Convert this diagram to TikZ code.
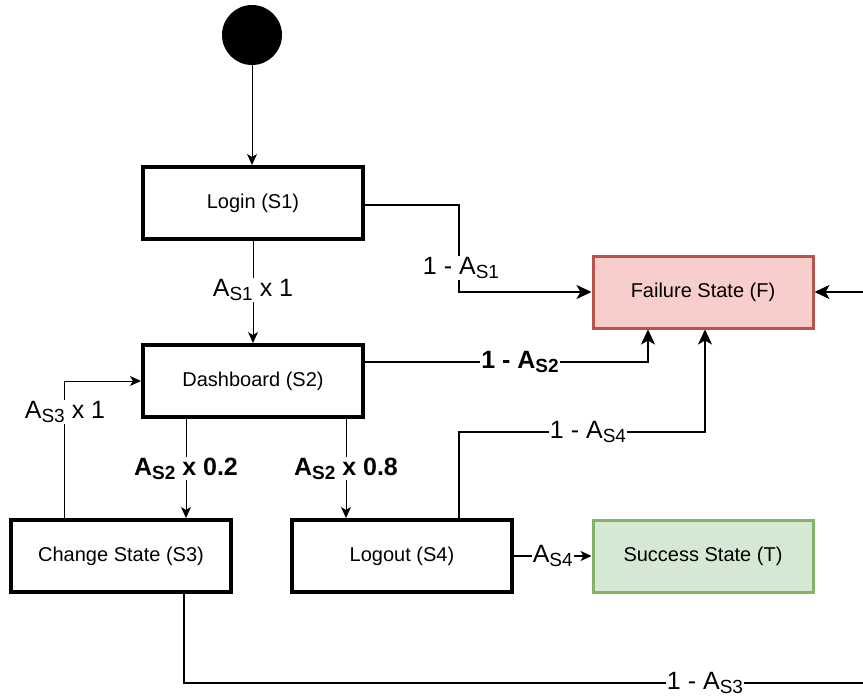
\documentclass[tikz,border=0pt]{standalone}
\usepackage{fontspec}
\setmainfont{Liberation Sans}
\usetikzlibrary{arrows.meta,calc}

\definecolor{failfill}{HTML}{F8CECC}
\definecolor{failline}{HTML}{B85450}
\definecolor{okfill}{HTML}{D5E8D4}
\definecolor{okline}{HTML}{82B366}

% availability symbol A with a state subscript
\newcommand\Avail[1]{A\raisebox{-4pt}{\fontsize{19}{19}\selectfont S#1}}

\tikzset{
  statebox/.style={draw, line width=4pt, minimum width=220pt, minimum height=72pt,
    inner sep=0pt, font=\fontsize{20}{24}\selectfont},
  failbox/.style={statebox, line width=3pt, draw=failline, fill=failfill},
  okbox/.style={statebox, line width=3pt, draw=okline, fill=okfill},
  thinarrow/.style={line width=1pt, -{Stealth[length=11pt,width=10pt,inset=3pt]}},
  thickarrow/.style={line width=2pt, -{Stealth[length=15pt,width=14pt,inset=4pt]}},
  prob/.style={fill=white, inner sep=1pt, font=\fontsize{25}{28}\selectfont},
  probbold/.style={prob, font=\fontsize{25}{28}\selectfont\bfseries},
}

\begin{document}
\begin{tikzpicture}[x=1pt, y=-1pt]
  \clip (0,0) rectangle (863,699);

  % initial state
  \node[circle, fill=black, minimum size=60pt, inner sep=0pt] (start) at (252,35) {};

  % states
  \node[statebox] (login) at (253,203) {Login (S1)};
  \node[statebox] (dash)  at (253,381) {Dashboard (S2)};
  \node[statebox] (cs)    at (121,556) {Change State (S3)};
  \node[statebox] (lo)    at (402,556) {Logout (S4)};
  \node[failbox]  (fail)  at (703,292) {Failure State (F)};
  \node[okbox]    (ok)    at (703,556) {Success State (T)};

  % bend points
  \coordinate (b1) at (459,292);
  \coordinate (b4) at (600,432);
  \coordinate (b5) at (900,683);

  % start -> login
  \draw[thinarrow] (start.south) -- (start.south |- login.north);

  % login -> dashboard
  \draw[thinarrow] (login.south) -- (login.south |- dash.north)
    node[prob, midway, yshift=2pt] {\Avail{1} x 1};

  % login -> failure
  \draw[thickarrow] ($(login.east)+(0,2)$) -| (b1) -- (fail.west);
  \node[prob] (l1) at (461,268) {1 - \Avail{1}};

  % dashboard -> failure
  \coordinate (d1) at ($(dash.north east)!0.25!(dash.south east)$);
  \draw[thickarrow] (d1) -| (d1 -| {$(fail.south)+(-55,0)$}) -- ($(fail.south)+(-55,0)$);
  \node[probbold] (l2) at (520,362) {1 - \Avail{2}};

  % dashboard -> change state / logout
  \coordinate (d2) at ($(dash.south west)+(45,0)$);
  \draw[thinarrow] (d2) -- (d2 |- cs.north)
    node[probbold, midway] {\Avail{2} x 0.2};
  \coordinate (d3) at ($(dash.south east)+(-19,0)$);
  \draw[thinarrow] (d3) -- (d3 |- lo.north)
    node[probbold, midway] {\Avail{2} x 0.8};

  % change state -> dashboard
  \coordinate (c1) at ($(cs.north west)+(55,0)$);
  \draw[thinarrow] (c1) |- (dash.west);
  \node[prob] (l3) at (65,412) {\Avail{3} x 1};

  % logout -> failure
  \coordinate (o1) at ($(lo.north east)+(-55,0)$);
  \draw[thickarrow] (o1) |- (b4) -| ($(fail.south)+(2,0)$);
  \node[prob] (l4) at (588,432) {1 - \Avail{4}};

  % logout -> success
  \draw[line width=1.5pt, -{Stealth[length=11pt,width=10pt,inset=3pt]}] (lo.east) -- (ok.west)
    node[prob, midway] {\Avail{4}};

  % change state -> failure (routed around the right side)
  \coordinate (c2) at ($(cs.south east)+(-49,0)$);
  \draw[thickarrow] (c2) |- (b5) |- (fail.east);
  \node[prob] (l5) at (705,683) {1 - \Avail{3}};
\end{tikzpicture}
\end{document}
